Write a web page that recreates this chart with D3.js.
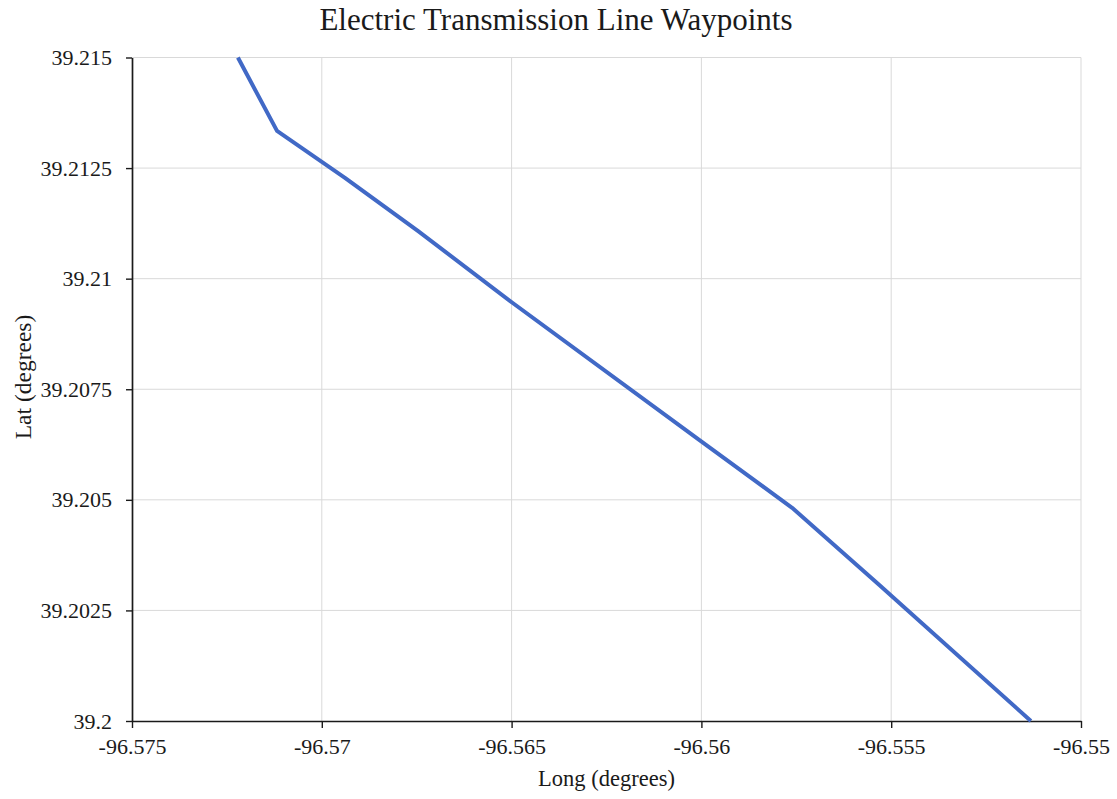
<!DOCTYPE html>
<html>
<head>
<meta charset="utf-8">
<script src="https://cdn.jsdelivr.net/npm/d3@7"></script>
<style>
  html, body { margin: 0; padding: 0; background: #ffffff; }
  svg { display: block; }
  text { font-family: "Liberation Serif", "Times New Roman", serif; fill: #1a1a1a; }
</style>
</head>
<body>
<svg id="chart" width="1117" height="799"></svg>
<script>
// Waypoints along the transmission line
const longitudes = [-96.57221, -96.57118, -96.56939, -96.56747, -96.56497, -96.56005, -96.55761, -96.55532, -96.55132];
const latitudes  = [39.21500, 39.21334, 39.21228, 39.21108, 39.20945, 39.20635, 39.20482, 39.20308, 39.20000];

// Axis ticks
const xTicks = [-96.575, -96.57, -96.565, -96.56, -96.555, -96.55];
const yTicks = [39.2, 39.2025, 39.205, 39.2075, 39.21, 39.2125, 39.215];
const xTickLabels = ["-96.575", "-96.57", "-96.565", "-96.56", "-96.555", "-96.55"];
const yTickLabels = ["39.2", "39.2025", "39.205", "39.2075", "39.21", "39.2125", "39.215"];

const titleText = "Electric Transmission Line Waypoints";
const xTitle = "Long (degrees)";
const yTitle = "Lat (degrees)";

const svg = d3.select("#chart");
const margin = { left: 132, right: 36, top: 57.5, bottom: 78 };
const W = 1117, H = 799;
const serif = "'Liberation Serif', 'Times New Roman', serif";

const x = d3.scaleLinear().domain([-96.575, -96.55]).range([margin.left, W - margin.right]);
const y = d3.scaleLinear().domain([39.2, 39.215]).range([H - margin.bottom, margin.top]);

// Gridlines
const grid = svg.append("g").attr("class", "grid");
grid.selectAll("line.v").data(xTicks.slice(1)).join("line")
  .attr("x1", d => x(d)).attr("x2", d => x(d))
  .attr("y1", y(39.215)).attr("y2", y(39.2))
  .attr("stroke", "#d9d9d9").attr("stroke-width", 1);
grid.selectAll("line.h").data(yTicks.slice(1)).join("line")
  .attr("x1", x(-96.575)).attr("x2", x(-96.55))
  .attr("y1", d => y(d)).attr("y2", d => y(d))
  .attr("stroke", "#d9d9d9").attr("stroke-width", 1);

// Axes
const xAxis = d3.axisBottom(x).tickValues(xTicks)
  .tickFormat((d, i) => xTickLabels[i]).tickSize(7).tickSizeOuter(0).tickPadding(10);
const yAxis = d3.axisLeft(y).tickValues(yTicks)
  .tickFormat((d, i) => yTickLabels[i]).tickSize(6).tickSizeOuter(0).tickPadding(14);

const gx = svg.append("g").attr("transform", `translate(0,${y(39.2)})`).call(xAxis);
const gy = svg.append("g").attr("transform", `translate(${x(-96.575)},0)`).call(yAxis);

[gx, gy].forEach(g => {
  g.attr("font-family", serif).attr("font-size", 22);
  g.select(".domain").attr("stroke", "#1a1a1a").attr("stroke-width", 1.7);
  g.selectAll(".tick line").attr("stroke", "#1a1a1a").attr("stroke-width", 1.4);
  g.selectAll(".tick text")
    .style("font-family", serif)
    .style("font-size", "22px").attr("fill", "#1a1a1a");
});

// Route line
const pts = longitudes.map((lon, i) => [lon, latitudes[i]]);
const line = d3.line().x(d => x(d[0])).y(d => y(d[1]));
svg.append("path").datum(pts)
  .attr("d", line)
  .attr("fill", "none")
  .attr("stroke", "#4169c6")
  .attr("stroke-width", 4)
  .attr("stroke-linejoin", "round");

// Titles
svg.append("text")
  .attr("x", 556).attr("y", 30)
  .attr("text-anchor", "middle")
  .style("font-size", "31px")
  .text(titleText);

svg.append("text")
  .attr("x", (x(-96.575) + x(-96.55)) / 2).attr("y", 786)
  .attr("text-anchor", "middle")
  .style("font-size", "22.5px")
  .text(xTitle);

svg.append("text")
  .attr("transform", `translate(31,377) rotate(-90)`)
  .attr("text-anchor", "middle")
  .style("font-size", "23.5px")
  .text(yTitle);
</script>
</body>
</html>
